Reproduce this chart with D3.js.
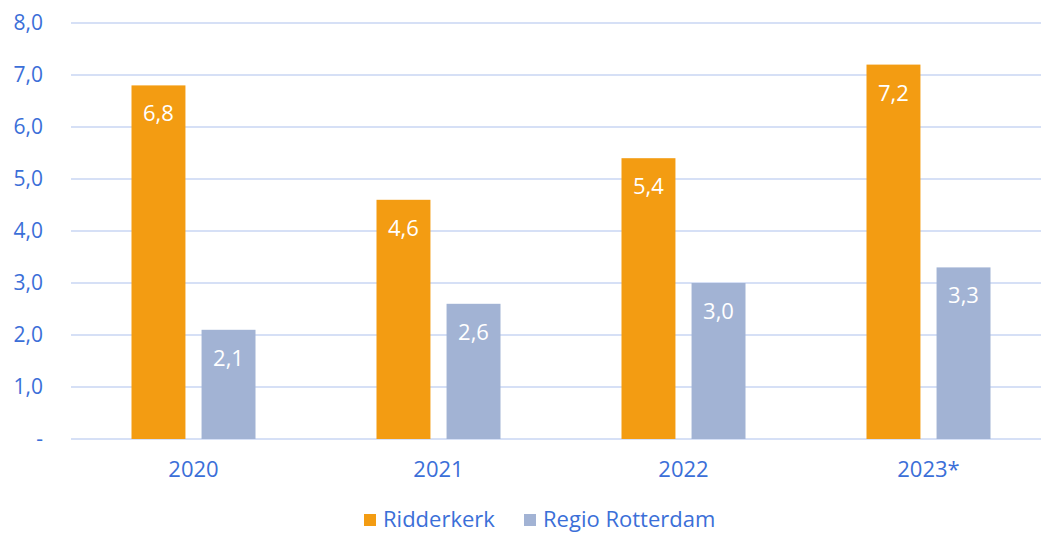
<!DOCTYPE html>
<html>
<head>
<meta charset="utf-8">
<script src="https://cdn.jsdelivr.net/npm/d3@7"></script>
<style>
  body { margin: 0; background: #fff; }
  text { font-family: "Open Sans", "Noto Sans", sans-serif; }
</style>
</head>
<body>
<div class="chart"></div>
<script>
var years = ['2020', '2021', '2022', '2023*'];
var seriesNames = ['Ridderkerk', 'Regio Rotterdam'];
var ridderkerk = [6.8, 4.6, 5.4, 7.2];
var regio = [2.1, 2.6, 3.0, 3.3];
var yTicks = [0, 1, 2, 3, 4, 5, 6, 7, 8];
var colors = ['#f39c12', '#a2b3d4'];

var W = 1041, H = 534;
var margin = {top: 23, right: -10, bottom: 95, left: 71};
var width = W - margin.left - margin.right;
var height = H - margin.top - margin.bottom;
var textColor = '#3b6fd8';

var svg = d3.select('.chart')
  .append('svg')
  .attr('width', W)
  .attr('height', H);

var g = svg.append('g')
  .attr('transform', `translate(${margin.left}, ${margin.top})`);

var x = d3.scaleBand()
  .domain(years)
  .range([0, width]);

var inner = d3.scaleBand()
  .domain(seriesNames)
  .range([x.bandwidth() / 2 - 62, x.bandwidth() / 2 + 62])
  .paddingInner(0.23);

var y = d3.scaleLinear()
  .domain([0, 8])
  .range([height, 0]);

// gridlines
g.selectAll('.grid')
  .data(yTicks)
  .enter()
  .append('line')
  .attr('x1', 0)
  .attr('x2', W)
  .attr('y1', d => y(d))
  .attr('y2', d => y(d))
  .style('stroke', '#d6e0f6')
  .style('stroke-width', 2);

// y axis labels
var yAxis = d3.axisLeft(y)
  .tickValues(yTicks)
  .tickSize(0)
  .tickPadding(28)
  .tickFormat(d => d === 0 ? '-' : d3.format('.1f')(d).replace('.', ','));

g.append('g')
  .call(yAxis)
  .call(a => a.select('.domain').remove())
  .selectAll('text')
  .style('font-size', '21px')
  .style('fill', textColor);

// x axis labels
var xAxis = d3.axisBottom(x).tickSize(0).tickPadding(22);
g.append('g')
  .attr('transform', `translate(0, ${height})`)
  .call(xAxis)
  .call(a => a.select('.domain').remove())
  .selectAll('text')
  .style('font-size', '22px')
  .style('fill', textColor);

var rows = years.map((yr, i) => ({year: yr, values: [ridderkerk[i], regio[i]]}));

var groups = g.selectAll('.grp')
  .data(rows)
  .enter()
  .append('g')
  .attr('transform', d => `translate(${x(d.year)}, 0)`);

var bars = groups.selectAll('.bar')
  .data(d => d.values.map((v, j) => ({name: seriesNames[j], value: v, j: j})))
  .enter();

bars.append('rect')
  .attr('x', d => inner(d.name))
  .attr('width', inner.bandwidth())
  .attr('y', d => y(d.value))
  .attr('height', d => height - y(d.value))
  .style('fill', d => colors[d.j]);

bars.append('text')
  .attr('x', d => inner(d.name) + inner.bandwidth() / 2)
  .attr('y', d => y(d.value) + 36)
  .style('text-anchor', 'middle')
  .style('font-size', '22px')
  .style('fill', '#fff')
  .text(d => d3.format('.1f')(d.value).replace('.', ','));

// legend
var legendX = [364, 524];
var legend = svg.selectAll('.legend')
  .data(seriesNames)
  .enter()
  .append('g')
  .attr('transform', (d, i) => `translate(${legendX[i]}, 514)`);

legend.append('rect')
  .attr('width', 12)
  .attr('height', 12)
  .style('fill', (d, i) => colors[i]);

legend.append('text')
  .attr('x', 19)
  .attr('y', 13)
  .style('font-size', '22px')
  .style('fill', textColor)
  .text(d => d);
</script>
</body>
</html>
